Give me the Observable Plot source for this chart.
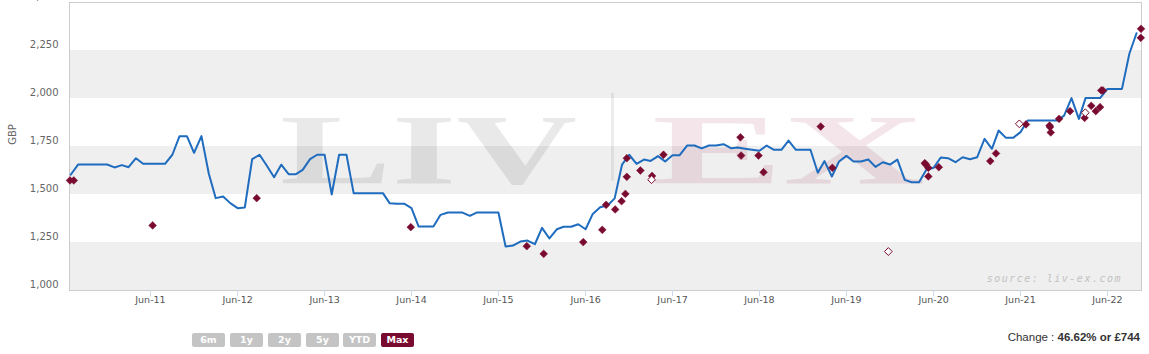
<!DOCTYPE html>
<html>
<head>
<meta charset="utf-8">
<script src="https://cdn.jsdelivr.net/npm/d3@7"></script>
<script src="https://cdn.jsdelivr.net/npm/@observablehq/plot@0.6"></script>
<style>
  html, body { margin: 0; padding: 0; background: #fff; }
  #wrap { position: relative; width: 1149px; height: 354px; overflow: hidden; font-family: "DejaVu Sans", sans-serif; }
  #chart { position: absolute; left: 0; top: 0; }
  .gbp { position: absolute; left: 0px; top: 129px; width: 24px; text-align: center; transform: rotate(-90deg); transform-origin: 50% 50%; font-size: 10px; color: #666; }
  .btn { position: absolute; top: 333px; width: 33px; height: 14px; line-height: 14px; text-align: center; color: #fff; background: #c4c4c4; font-size: 9.5px; font-weight: bold; border-radius: 2px; }
  .btn.on { background: #7a0b30; }
  .change { position: absolute; right: 9px; top: 331px; font-family: "Liberation Sans", sans-serif; font-size: 11.5px; color: #333; }
  .change b { color: #333; }
</style>
</head>
<body>
<div id="wrap">
  <div id="chart"></div>
  <div class="gbp">GBP</div>
  <div id="buttons"></div>
  <div class="change">Change : <b>46.62% or £744</b></div>
</div>
<script>
// ---- data ----
const firstMonth = "2010-07-01";
const priceValues = [
  1603,1656,1656,1656,1656,1656,1641,1653,1642,1689,
  1660,1660,1660,1660,1707,1804,1804,1717,1804,1608,
  1481,1490,1455,1429,1432,1684,1707,1651,1590,1655,
  1606,1606,1628,1684,1707,1707,1500,1707,1707,1507,
  1507,1507,1507,1507,1455,1452,1452,1429,1333,1333,
  1333,1394,1406,1406,1406,1389,1406,1406,1406,1406,
  1229,1234,1255,1260,1241,1326,1271,1319,1332,1332,
  1345,1319,1399,1434,1443,1480,1656,1707,1660,1682,
  1675,1700,1672,1705,1705,1755,1755,1740,1755,1755,
  1762,1741,1745,1738,1733,1728,1755,1733,1733,1781,
  1733,1733,1733,1613,1674,1594,1672,1701,1672,1672,
  1682,1644,1668,1656,1682,1576,1564,1564,1628,1639,
  1693,1689,1668,1694,1684,1694,1790,1738,1833,1795,
  1795,1825,1885,1885,1885,1885,1885,1911,2002,1894,
  2002,2002,2002,2050,2050,2050,2233,2340
];
const tradeDates = [
  "2010-06-28","2010-07-14","2011-06-10","2012-08-20","2014-05-29","2015-09-28","2015-12-08",
  "2016-05-22","2016-08-10","2016-08-26","2016-10-03","2016-10-30","2016-11-15","2016-11-21",
  "2016-11-21","2017-01-17","2017-03-07","2017-04-24","2018-03-13","2018-03-16","2018-05-28",
  "2018-06-18","2019-02-13","2019-04-03","2020-04-25","2020-04-30","2020-05-10","2020-05-10",
  "2020-06-23","2021-01-25","2021-02-18","2021-06-24","2021-10-01","2021-10-03","2021-10-06",
  "2021-11-10","2021-12-26","2022-02-25","2022-03-25","2022-04-13","2022-05-01","2022-05-06",
  "2022-05-13","2022-10-20","2022-10-19"
];
const tradeValues = [
  1573,1573,1339,1481,1330,1231,1191,
  1252,1316,1446,1422,1465,1503,1592,
  1689,1625,1597,1707,1798,1703,1703,
  1616,1854,1639,1663,1656,1639,1594,
  1642,1674,1714,1865,1859,1851,1823,
  1894,1934,1899,1962,1934,1955,2042,
  2042,2363,2316
];
const offerDates = ["2017-03-05","2019-11-24","2021-05-27","2022-02-28"];
const offerValues = [1577,1203,1868,1926];
const yTicks = [1000,1250,1500,1750,2000,2250,2500];
const xTicks = ["2011-06-01","2012-06-01","2013-06-01","2014-06-01","2015-06-01","2016-06-01",
                "2017-06-01","2018-06-01","2019-06-01","2020-06-01","2021-06-01","2022-06-01"];
const bandFrom = [1000,1500,2000];
const bandTo = [1250,1750,2250];
const rangeButtons = ["6m","1y","2y","5y","YTD","Max"];

// ---- tables ----
const series = priceValues.map((v, i) => ({date: d3.utcMonth.offset(new Date(firstMonth), i), value: v}));
const trades = tradeDates.map((d, i) => ({date: new Date(d), value: tradeValues[i]}));
const offers = offerDates.map((d, i) => ({date: new Date(d), value: offerValues[i]}));
const bands = bandFrom.map((f, i) => ({from: f, to: bandTo[i]}));

const maroon = "#7a0b30";
const chart = Plot.plot({
  width: 1149,
  height: 320,
  marginLeft: 69,
  marginRight: 8,
  marginTop: 2,
  marginBottom: 30,
  style: {fontFamily: "DejaVu Sans, sans-serif", fontSize: "10px", color: "#666", background: "transparent", overflow: "visible"},
  x: {type: "utc", domain: [new Date("2010-06-26"), new Date("2022-10-22")]},
  y: {domain: [1000, 2500]},
  marks: [
    Plot.rect(bands, {y1: "from", y2: "to", fill: "#efefef"}),
    Plot.frame({stroke: "#cccccc"}),
    Plot.axisX(xTicks.map(d => new Date(d)), {tickFormat: d3.utcFormat("%b-%y"), tickSize: 6, tickPadding: 0, stroke: "#ccd6eb", fill: "#555", fontSize: 9.5, label: null}),
    Plot.axisY(yTicks, {tickFormat: d3.format(","), tickSize: 0, tickPadding: 11, dy: -6, fill: "#666", fontSize: 10, label: null}),
    Plot.line(series, {x: "date", y: "value", stroke: "#1f6cbf", strokeWidth: 2}),
    Plot.dot(trades, {x: "date", y: "value", symbol: "diamond2", r: 3.5, fill: maroon, stroke: maroon, strokeWidth: 0.5}),
    Plot.dot(offers, {x: "date", y: "value", symbol: "diamond2", r: 3.5, fill: "#fff", stroke: maroon, strokeWidth: 1})
  ]
});
document.getElementById("chart").appendChild(chart);

// watermark + source text (decoration, behind the line)
const ns = "http://www.w3.org/2000/svg";
const lineG = chart.querySelector('[aria-label="line"]');
function addText(str, attrs) {
  const t = document.createElementNS(ns, "text");
  for (const k in attrs) t.setAttribute(k, attrs[k]);
  t.textContent = str;
  chart.insertBefore(t, lineG);
  return t;
}
addText("LIV", {x: 280, y: 183, "text-anchor": "start", "font-family": "Liberation Serif, serif", "font-weight": "bold", "font-size": 100, textLength: 297, lengthAdjust: "spacingAndGlyphs", fill: "rgba(0,0,0,0.085)"});
const bar = document.createElementNS(ns, "rect");
bar.setAttribute("x", 611); bar.setAttribute("y", 93); bar.setAttribute("width", 3); bar.setAttribute("height", 88);
bar.setAttribute("fill", "rgba(0,0,0,0.07)");
chart.insertBefore(bar, lineG);
addText("EX", {x: 652, y: 183, "text-anchor": "start", "font-family": "Liberation Serif, serif", "font-weight": "bold", "font-size": 100, textLength: 273, lengthAdjust: "spacingAndGlyphs", fill: "rgba(139,0,40,0.1)"});
addText("source: liv-ex.com", {x: 1122, y: 282, "text-anchor": "end", "font-family": "DejaVu Sans Mono, monospace", "font-style": "italic", "font-size": 10, "letter-spacing": 1.5, fill: "#c2c2c2"});

// range buttons
const btnLefts = [192, 230, 268, 306, 343, 381];
const bw = document.getElementById("buttons");
rangeButtons.forEach((b, i) => {
  const el = document.createElement("div");
  el.className = "btn" + (b === "Max" ? " on" : "");
  el.style.left = btnLefts[i] + "px";
  el.textContent = b;
  bw.appendChild(el);
});
</script>
</body>
</html>
